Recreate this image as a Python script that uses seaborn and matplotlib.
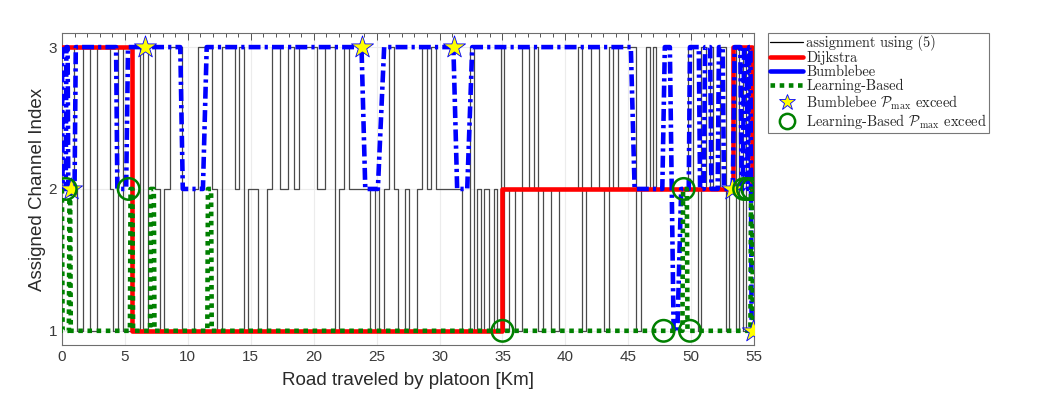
import matplotlib
matplotlib.use("Agg")
import matplotlib.pyplot as plt
import seaborn as sns
from matplotlib.lines import Line2D
from matplotlib.ticker import MultipleLocator

# ---------------- data (km along road, channel index) ----------------
assign_km = [0.0, 0.95, 1.19, 1.67, 2.23, 2.78, 3.82, 4.05, 4.45, 4.85,
             6.20, 6.44, 6.84, 7.39, 7.79, 8.11, 8.59, 9.54, 10.49, 10.81,
             11.92, 12.32, 12.72, 13.75, 14.07, 14.47, 14.79, 15.58, 16.30, 16.69,
             17.33, 17.97, 18.44, 18.84, 20.27, 20.91, 21.70, 22.02, 22.42, 22.82,
             24.49, 24.88, 25.20, 25.60, 25.99, 26.39, 26.71, 27.27, 27.58, 28.22,
             28.62, 29.01, 29.33, 29.73, 31.80, 32.43, 32.75, 32.99, 33.31, 33.55,
             33.94, 34.34, 34.58, 34.90, 35.14, 35.53, 36.01, 36.57, 37.12, 37.52,
             37.84, 38.24, 38.87, 39.51, 41.02, 41.34, 41.65, 42.05, 42.69, 43.08,
             43.48, 43.80, 44.20, 45.63, 46.03, 46.42, 46.74, 46.98, 47.22, 49.76,
             50.16, 50.56, 50.80, 51.19, 51.51, 51.75, 52.31, 52.78, 53.02, 53.34,
             53.58, 53.82, 54.13, 54.37, 54.61, 54.85, 55.0]
assign_ch = [3, 2, 1, 3, 1, 3, 2, 1, 3, 1,
             3, 1, 3, 2, 1, 2, 3, 1, 2, 3,
             2, 1, 3, 2, 3, 1, 2, 1, 2, 3,
             2, 3, 2, 3, 2, 3, 1, 2, 3, 2,
             1, 2, 1, 2, 3, 2, 1, 2, 1, 2,
             3, 2, 3, 2, 1, 3, 1, 2, 1, 2,
             1, 2, 1, 3, 1, 2, 1, 3, 2, 3,
             1, 2, 1, 2, 3, 1, 2, 3, 2, 1,
             3, 2, 3, 1, 2, 3, 2, 3, 2, 3,
             2, 1, 3, 2, 3, 2, 3, 1, 2, 3,
             1, 3, 1, 3, 2, 3, 3]

dijkstra_km = [0.0, 5.6, 5.6, 35.0, 35.0, 53.3, 53.3, 54.8, 54.8, 55.0]
dijkstra_ch = [3, 3, 1, 1, 2, 2, 3, 3, 2, 2]

bumblebee_km = [0.0, 0.05, 0.3, 0.35, 0.45, 0.5, 1.0, 1.1, 4.3, 4.4,
                5.1, 5.25, 9.4, 9.6, 11.2, 11.5, 23.8, 24.1, 25.1, 25.6,
                31.1, 31.4, 32.2, 32.6, 45.2, 45.5, 47.7, 47.9, 48.3, 48.6,
                48.9, 49.2, 49.8, 49.9, 50.6, 50.7, 51.0, 51.1, 51.5, 51.6,
                52.1, 52.2, 52.5, 52.6, 53.3, 53.45, 53.9, 54.0, 54.1, 54.2,
                54.4, 54.5, 54.6, 54.7, 54.8, 55.0]
bumblebee_ch = [3, 2, 2, 3, 3, 2, 2, 3, 3, 2,
                2, 3, 3, 2, 2, 3, 3, 2, 2, 3,
                3, 2, 2, 3, 3, 2, 2, 3, 3, 1,
                1, 2, 2, 3, 3, 2, 2, 3, 3, 2,
                2, 3, 3, 2, 2, 3, 3, 2, 2, 3,
                3, 2, 3, 3, 1, 1]

learning_km = [0.0, 0.05, 0.55, 0.6, 0.65, 0.7, 5.4, 5.45, 5.6, 5.65,
               7.0, 7.05, 7.3, 7.35, 11.55, 11.6, 11.85, 11.9, 49.3, 49.35,
               49.65, 49.7, 54.7, 54.75, 54.85, 54.9, 55.0]
learning_ch = [2, 1, 1, 2, 2, 1, 1, 2, 2, 1,
               1, 2, 2, 1, 1, 2, 2, 1, 1, 2,
               2, 1, 1, 2, 2, 1, 1]

bb_exceed_km = [0.7, 6.6, 23.85, 31.15, 53.2, 54.9]
bb_exceed_ch = [2, 3, 3, 3, 2, 1]

lb_exceed_km = [0.3, 5.3, 35.0, 47.8, 49.4, 49.9, 54.2, 54.5, 54.85]
lb_exceed_ch = [2, 2, 1, 1, 2, 1, 2, 2, 2]

x_ticks = [0, 5, 10, 15, 20, 25, 30, 35, 40, 45, 50, 55]
y_ticks = [1, 2, 3]

labels = ["assignment using (5)", "Dijkstra", "Bumblebee", "Learning-Based",
          r"Bumblebee $\mathcal{P}_{\max}$ exceed",
          r"Learning-Based $\mathcal{P}_{\max}$ exceed"]

# ---------------- style ----------------
sns.set_theme(style="white")
plt.rcParams["font.family"] = ["Liberation Sans", "DejaVu Sans"]
plt.rcParams["mathtext.fontset"] = "cm"

fig = plt.figure(figsize=(10.52, 4.15), dpi=100)
ax = fig.add_axes([0.0589, 0.1687, 0.658, 0.752])

BLUE = "#0000ff"
RED = "#ff0000"
GREEN = "#008000"
LW = 3.3
DASHDOT = (0, (2.6, 0.9, 0.7, 0.9))
DOTTED = (0, (1.0, 1.0))

sns.lineplot(x=assign_km, y=assign_ch, drawstyle="steps-post", sort=False,
             estimator=None, color="#4a4a4a", lw=0.9, ax=ax, zorder=2)
sns.lineplot(x=dijkstra_km, y=dijkstra_ch, sort=False, estimator=None,
             color=RED, lw=LW, ax=ax, zorder=3)
sns.lineplot(x=bumblebee_km, y=bumblebee_ch, sort=False, estimator=None,
             color=BLUE, lw=LW, ax=ax, zorder=4, linestyle=DASHDOT)
sns.lineplot(x=learning_km, y=learning_ch, sort=False, estimator=None,
             color=GREEN, lw=LW, ax=ax, zorder=5, linestyle=DOTTED)
sns.scatterplot(x=bb_exceed_km, y=bb_exceed_ch, marker="*", s=280,
                color="#ffff00", edgecolor=BLUE, linewidth=0.6, ax=ax, zorder=6)
sns.scatterplot(x=lb_exceed_km, y=lb_exceed_ch, marker="o", s=240,
                facecolor="none", edgecolor=GREEN, linewidth=1.8, ax=ax, zorder=7)

ax.set_xlim(0, 55)
ax.set_ylim(0.9, 3.1)
ax.set_xticks(x_ticks)
ax.set_yticks(y_ticks)
ax.xaxis.set_minor_locator(MultipleLocator(1))
ax.grid(True, which="major", color="#ececec", lw=0.8, zorder=0)
ax.set_axisbelow(True)
ax.tick_params(axis="both", which="both", direction="in", top=True, right=True,
               colors="#3a3a3a", labelsize=11, width=0.6)
ax.tick_params(which="major", length=5)
ax.tick_params(which="minor", length=3)
for sp in ax.spines.values():
    sp.set_color("#6e6e6e")
    sp.set_linewidth(0.8)

ax.set_xlabel("Road traveled by platoon [Km]", fontsize=13.5, color="#2a2a2a", labelpad=6)
ax.set_ylabel("Assigned Channel Index", fontsize=13.5, color="#2a2a2a", labelpad=2)

handles = [
    Line2D([], [], color="black", lw=0.9),
    Line2D([], [], color=RED, lw=LW),
    Line2D([], [], color=BLUE, lw=LW),
    Line2D([], [], color=GREEN, lw=LW, linestyle=DOTTED),
    Line2D([], [], marker="*", color="none", markerfacecolor="#ffff00",
           markeredgecolor=BLUE, markersize=12, markeredgewidth=0.6),
    Line2D([], [], marker="o", color="none", markerfacecolor="none",
           markeredgecolor=GREEN, markersize=11, markeredgewidth=1.8),
]
leg = ax.legend(handles, labels, loc="upper left",
                bbox_to_anchor=(768 / 1052, 1 - 33 / 415),
                bbox_transform=fig.transFigure, frameon=True, fancybox=False,
                prop={"family": "cmr10", "size": 10.4}, handlelength=2.3,
                handletextpad=0.2, labelspacing=0.0, borderpad=0.15,
                borderaxespad=0.0)
leg.get_frame().set_edgecolor("#555555")
leg.get_frame().set_linewidth(0.8)

fig.savefig("out.png", dpi=100)
